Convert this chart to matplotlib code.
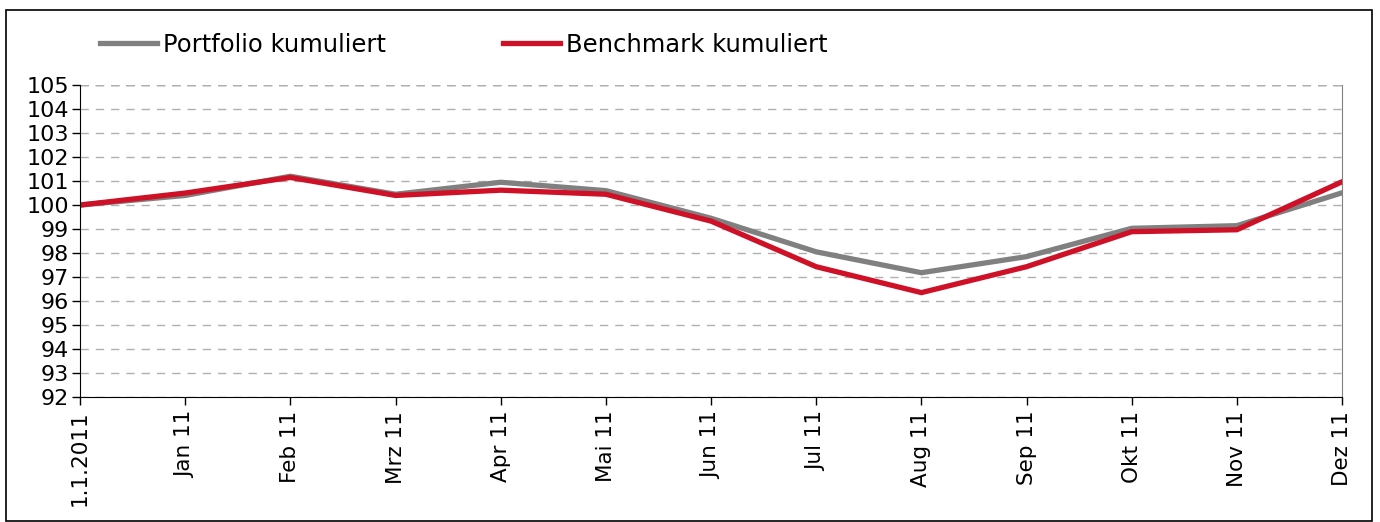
import matplotlib
matplotlib.use('Agg')
import matplotlib.pyplot as plt
from matplotlib.patches import Rectangle

labels = ['1.1.2011', 'Jan 11', 'Feb 11', 'Mrz 11', 'Apr 11', 'Mai 11', 'Jun 11',
          'Jul 11', 'Aug 11', 'Sep 11', 'Okt 11', 'Nov 11', 'Dez 11']
portfolio = [100.0, 100.4, 101.2, 100.45, 100.95, 100.6, 99.45,
             98.05, 97.18, 97.85, 99.03, 99.14, 100.51]
benchmark = [100.0, 100.5, 101.15, 100.4, 100.62, 100.45, 99.33,
             97.43, 96.35, 97.43, 98.89, 98.97, 100.97]
yticks = list(range(92, 106))

fig = plt.figure(figsize=(13.8, 5.22), dpi=100)
ax = fig.add_axes([0.058, 0.2395, 0.9145, 0.5975])

x = range(len(labels))
ax.plot(x, portfolio, color='#808080', linewidth=3.8, label='Portfolio kumuliert', solid_joinstyle='miter')
ax.plot(x, benchmark, color='#CE1126', linewidth=3.8, label='Benchmark kumuliert', solid_joinstyle='miter')

ax.set_xlim(0, len(labels) - 1)
ax.set_ylim(92, 105)
ax.set_yticks(yticks)
ax.set_yticklabels([str(v) for v in yticks], fontsize=16)
ax.set_xticks(list(x))
ax.set_xticklabels(labels, rotation=90, fontsize=15.5)
ax.tick_params(axis='y', length=6, width=1, pad=2)
ax.tick_params(axis='x', length=6, width=1, pad=4)

ax.yaxis.grid(True, linestyle=(0, (6, 5)), color='#b0b0b0', linewidth=1)
ax.set_axisbelow(True)
ax.spines['top'].set_visible(False)
ax.spines['right'].set_color('#808080')
ax.spines['left'].set_color('black')
ax.spines['bottom'].set_color('black')
# darker dashed line on top
ax.axhline(105, color='#606060', linestyle=(0, (6, 5)), linewidth=1, zorder=0)

ax.legend(loc='center left', bbox_to_anchor=(0.0725, 0.914), bbox_transform=fig.transFigure,
          ncol=2, frameon=False, fontsize=17.5, handlelength=2.35, handletextpad=0.25,
          columnspacing=4.8, borderaxespad=0, borderpad=0)

fig.patches.append(Rectangle((0.004, 0.002), 0.99, 0.978, transform=fig.transFigure,
                             fill=False, edgecolor='black', linewidth=1.2))

fig.savefig('out.png', dpi=100)
